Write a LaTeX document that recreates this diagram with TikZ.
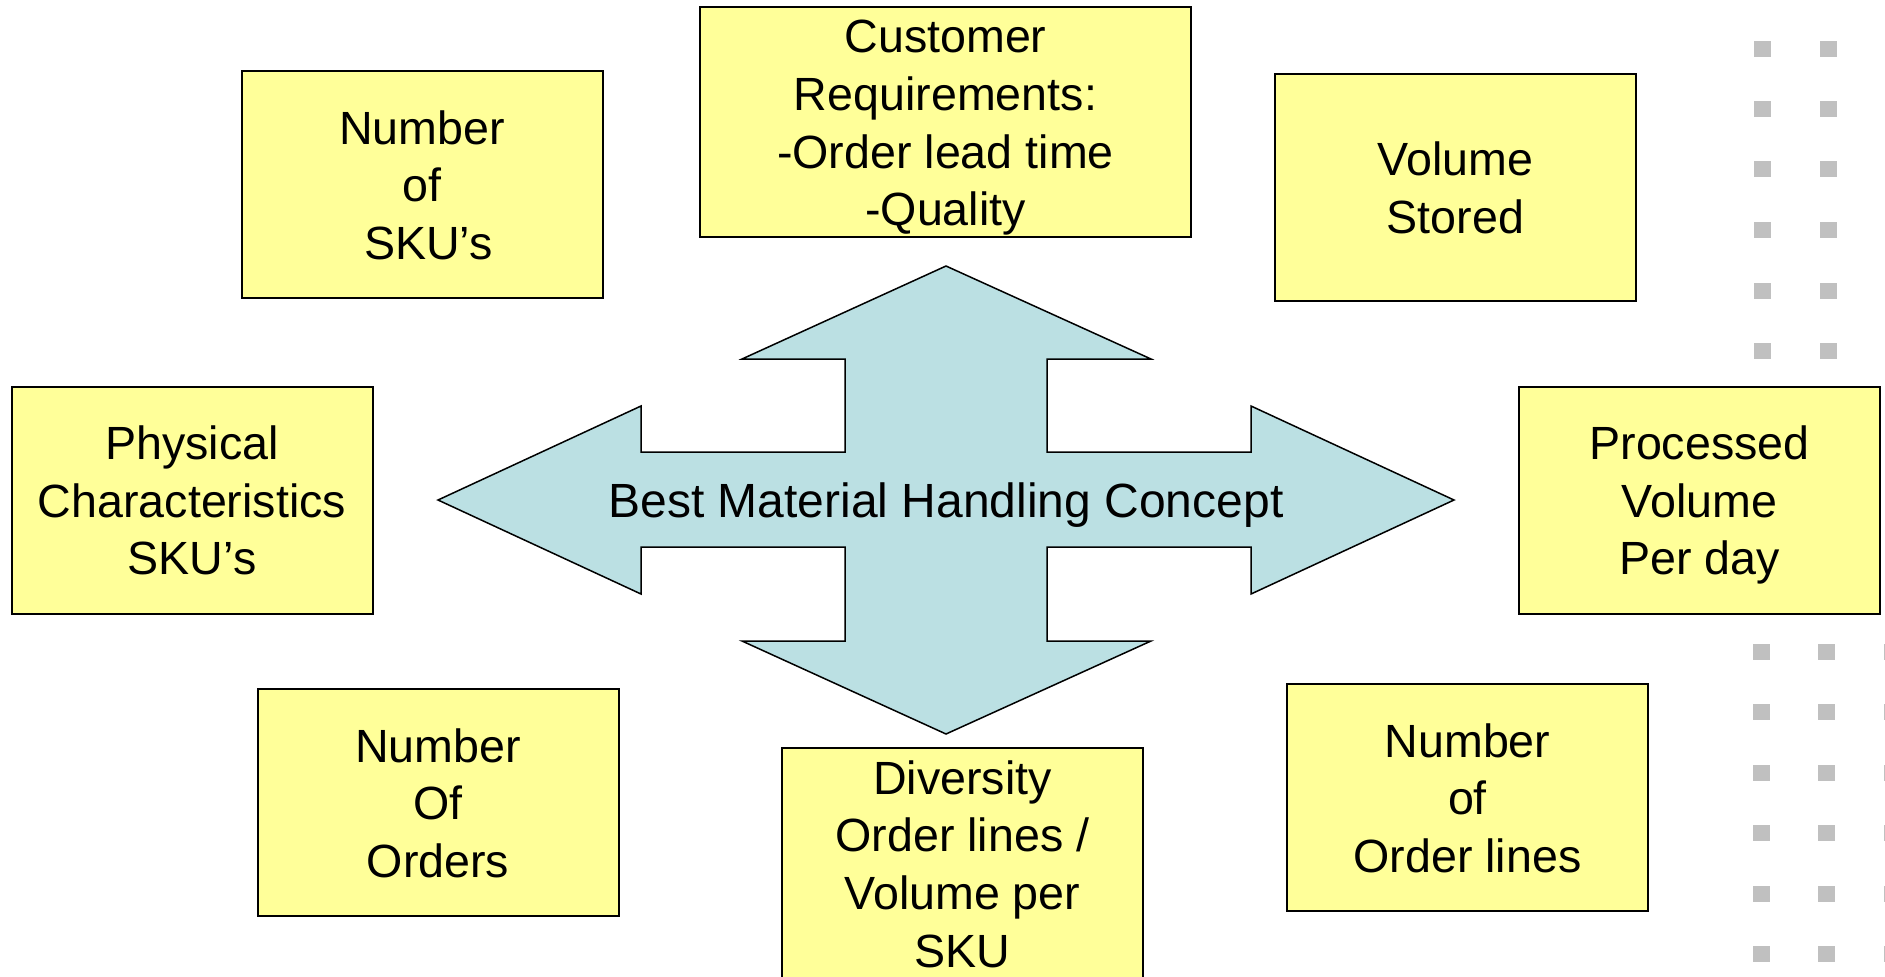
\documentclass[tikz,border=0pt]{standalone}
\usepackage{fontspec}
\setmainfont{Liberation Sans}
\definecolor{boxyellow}{HTML}{FFFF99}
\definecolor{arrowblue}{HTML}{BBE0E3}
\definecolor{dotgrey}{HTML}{C0C0C0}
\newcommand{\mystrut}{\rule[-5.8pt]{0pt}{28.8pt}}
\begin{document}
\begin{tikzpicture}[x=0.5pt,y=-0.5pt,
  box/.style={draw=black, line width=1pt, fill=boxyellow,
    minimum width=180.5pt, minimum height=113.5pt, inner sep=0pt,
    align=center, font=\fontsize{23.3}{28.8}\selectfont},
  dotsq/.style={fill=dotgrey}]
\useasboundingbox (0,0) rectangle (1885,976);
\clip (0,0) rectangle (1885,976);
\fill[white] (0,0) rectangle (1885,976);

% decorative grey squares
\foreach \y in {41,101,161,222,283,343}{
  \fill[dotsq] (1754,\y) rectangle ++(17,16);
  \fill[dotsq] (1820,\y) rectangle ++(17,16);
}
\foreach \y in {644,704,765,825,886,946}{
  \fill[dotsq] (1753,\y) rectangle ++(17,16);
  \fill[dotsq] (1818,\y) rectangle ++(17,16);
  \fill[dotsq] (1884,\y) rectangle ++(17,16);
}

% central four-way arrow
\draw[fill=arrowblue, line width=0.75pt, line join=miter]
  (946,266) -- (1151,359) -- (1047,359) -- (1047,452) -- (1251,452) --
  (1251,406) -- (1454,500) -- (1251,594) -- (1251,547) -- (1047,547) --
  (1047,641) -- (1151,641) -- (946,734) -- (742,641) -- (845,641) --
  (845,547) -- (641,547) -- (641,594) -- (438,500) -- (641,406) --
  (641,452) -- (845,452) -- (845,359) -- (742,359) -- cycle;
\node[font=\fontsize{24}{29}\selectfont, inner sep=0pt] (concept) at (946,500) {\mystrut Best Material Handling Concept};

% boxes
\node[box] (sku) at (422,184.5) {\mystrut Number\\\mystrut of\\\mystrut\ SKU’s};
\node[box, minimum width=245.5pt] (cust) at (945.5,122) {\mystrut Customer\\\mystrut Requirements:\\\mystrut -Order lead time\\\mystrut -Quality};
\node[box] (vol) at (1455.5,187) {\mystrut Volume\\\mystrut Stored};
\node[box] (phys) at (192,500) {\mystrut Physical\\\mystrut Characteristics\\\mystrut SKU’s};
\node[box] (proc) at (1699.5,500) {\mystrut Processed\\\mystrut Volume\\\mystrut Per day};
\node[box] (orders) at (438,802.5) {\mystrut Number\\\mystrut Of\\\mystrut Orders};
\node[box] (div) at (962.5,863.5) {\mystrut Diversity\\\mystrut Order lines /\\\mystrut Volume per\\\mystrut SKU};
\node[box] (lines) at (1467.5,797.5) {\mystrut Number\\\mystrut of\\\mystrut Order lines};
\end{tikzpicture}
\end{document}
